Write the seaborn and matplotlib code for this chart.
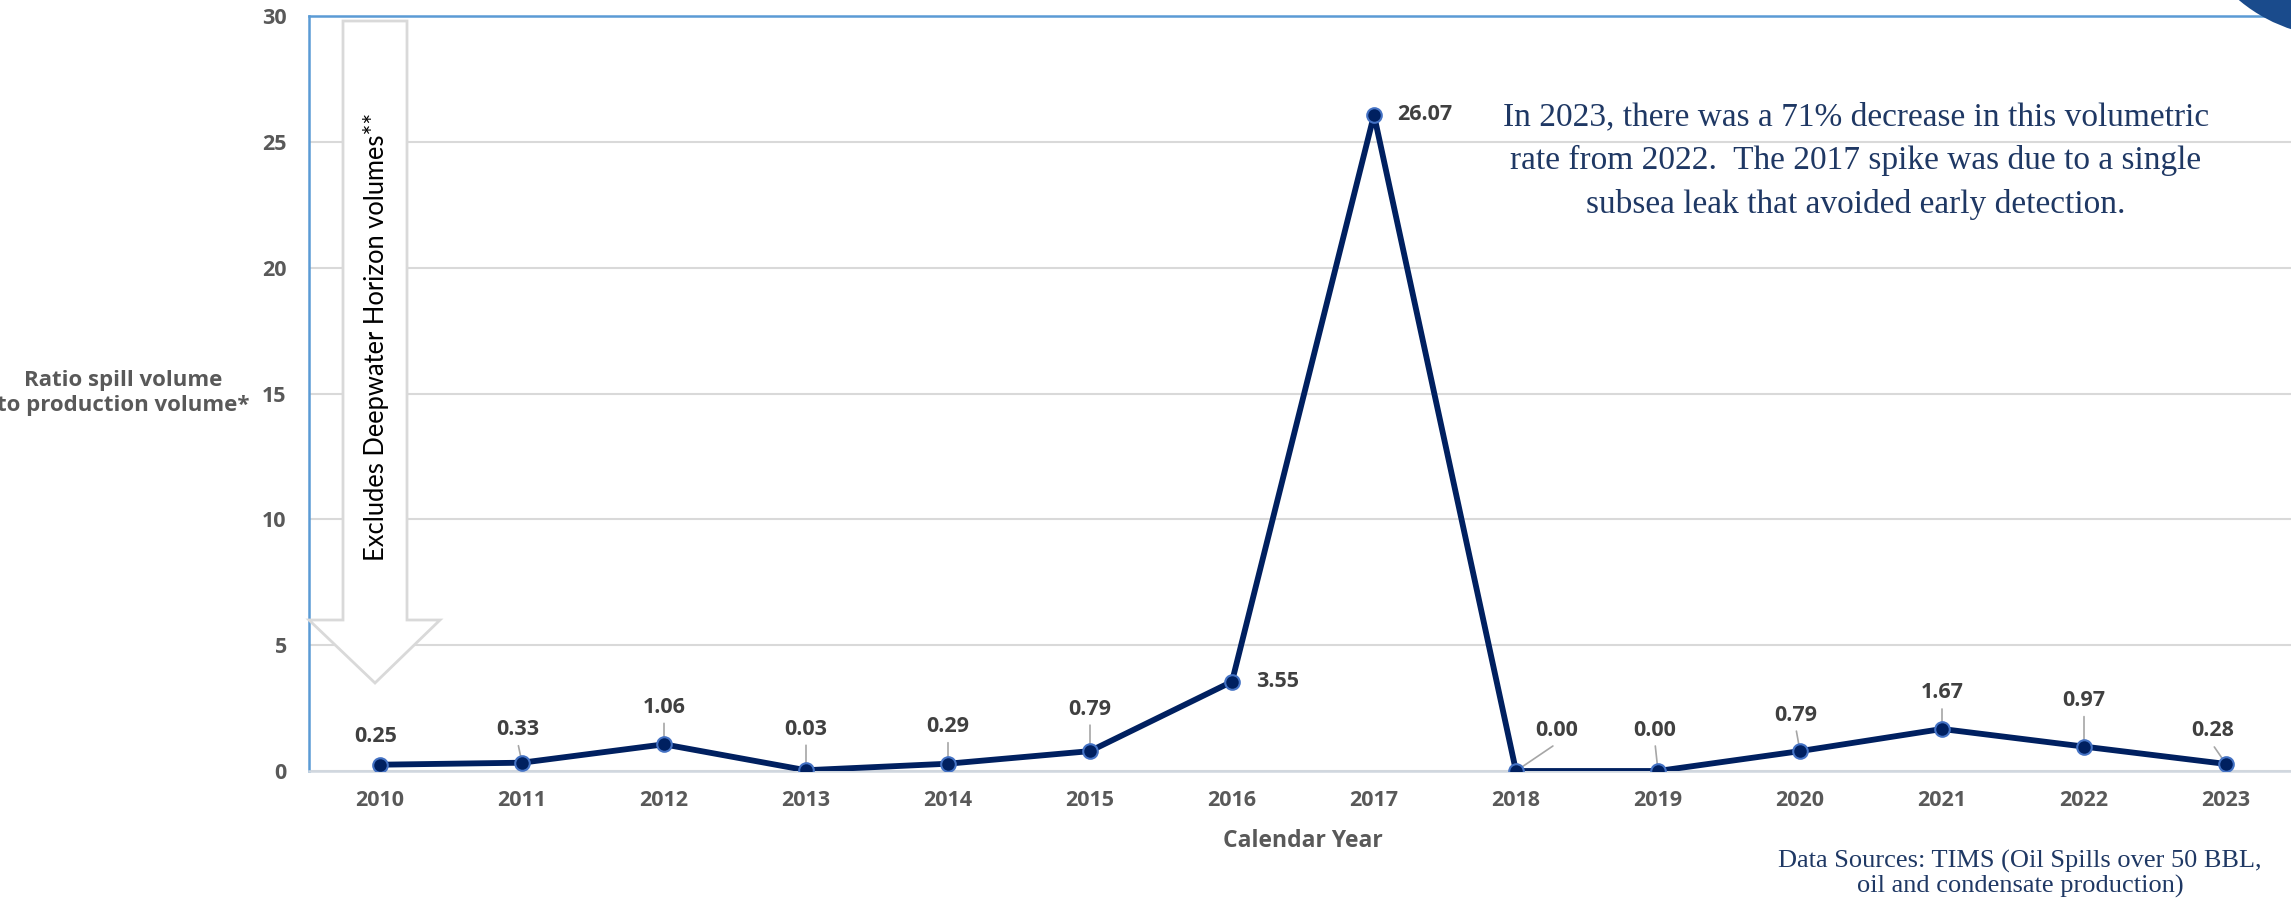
import matplotlib
matplotlib.use("Agg")
import matplotlib.pyplot as plt
from matplotlib.patches import Polygon, Circle
from matplotlib.transforms import IdentityTransform
import seaborn as sns
import pandas as pd

# Spill-to-production ratio by calendar year
years = [2010, 2011, 2012, 2013, 2014, 2015, 2016, 2017, 2018, 2019, 2020, 2021, 2022, 2023]
ratios = [0.25, 0.33, 1.06, 0.03, 0.29, 0.79, 3.55, 26.07, 0.00, 0.00, 0.79, 1.67, 0.97, 0.28]
y_ticks = [0, 5, 10, 15, 20, 25, 30]

# label offsets (pixels) relative to each point, and whether a leader line is drawn
label_dx = [-4, -4, 0, 0, 0, 0, 24, 23, 41, -3, -4, 0, 0, -13]
label_dy = [28, 33, 37, 41, 37, 42, 0, 0, 41, 41, 36, 36, 46, 33]
label_ha = ["center"] * 6 + ["left", "left"] + ["center"] * 6
leader = [False, True, True, True, True, True, False, False, True, True, True, True, True, True]

df = pd.DataFrame({"year": years, "ratio": ratios})

W, H, DPI = 2291, 908, 100
sns.set_theme(style="white")
plt.rcParams["font.family"] = ["Open Sans", "DejaVu Sans"]

fig = plt.figure(figsize=(W / DPI, H / DPI), dpi=DPI)
ax_left, ax_bottom, ax_top = 309.0, 771.0, 16.0
ax = fig.add_axes([ax_left / W, (H - ax_bottom) / H, 1 - ax_left / W, (ax_bottom - ax_top) / H])

step = 142.0
ax.set_xlim(2009.5, 2009.5 + (W - ax_left) / step)
ax.set_ylim(0, 30)

navy = "#002060"
sns.lineplot(data=df, x="year", y="ratio", ax=ax, color=navy, linewidth=4.2,
             marker="o", markersize=10.5, markerfacecolor=navy,
             markeredgecolor="#4472c4", markeredgewidth=1.5, zorder=5)

ax.set_yticks(y_ticks)
ax.set_xticks(years)
ax.set_xticklabels([str(y) for y in years])
ax.tick_params(axis="both", length=0, labelsize=15.5, labelcolor="#595959")
ax.tick_params(axis="y", pad=16)
ax.tick_params(axis="x", pad=14)
for lbl in ax.get_xticklabels() + ax.get_yticklabels():
    lbl.set_fontweight("bold")

ax.grid(axis="y", color="#d9d9d9", linewidth=1.5)
ax.grid(axis="x", visible=False)
ax.set_axisbelow(True)
ax.set_xlabel("")
ax.set_ylabel("")

for side in ["left", "top"]:
    ax.spines[side].set_color("#5b9bd5")
    ax.spines[side].set_linewidth(1.8)
ax.spines["bottom"].set_color("#d0d7df")
ax.spines["bottom"].set_linewidth(1.8)
ax.spines["right"].set_visible(False)

# value labels
for yr, v, dx, dy, ha, ld in zip(years, ratios, label_dx, label_dy, label_ha, leader):
    ax.annotate(f"{v:.2f}", xy=(yr, v), xytext=(dx, dy), textcoords="offset pixels",
                ha=ha, va="center", fontsize=15.5, fontweight="bold", color="#404040",
                zorder=6)
    if ld:
        ax.annotate("", xy=(yr, v), xytext=(dx * 0.9, dy - 16), textcoords="offset pixels",
                    arrowprops=dict(arrowstyle="-", color="#a6a6a6", lw=1.2,
                                    shrinkA=0, shrinkB=3), zorder=4)

# axis titles
fig.text(123 / W, 1 - 393 / H, "Ratio spill volume\nto production volume*",
         ha="center", va="center", fontsize=16, fontweight="bold", color="#595959",
         linespacing=1.3)
fig.text(1303 / W, 1 - 841 / H, "Calendar Year", ha="center", va="center",
         fontsize=16.5, fontweight="bold", color="#595959")

# block arrow marking the exclusion note
def fx(px):
    return px / W

def fy(py):
    return 1 - py / H

arrow_pts = [(343, 21), (407, 21), (407, 620), (440, 620), (375, 683),
             (309, 620), (343, 620)]
arrow = Polygon([(fx(x), fy(y)) for x, y in arrow_pts], closed=True,
                facecolor="white", edgecolor="#d9d9d9", linewidth=2,
                transform=fig.transFigure, zorder=3)
fig.add_artist(arrow)
fig.text(fx(376), fy(337), "Excludes Deepwater Horizon volumes**", rotation=90,
         ha="center", va="center", fontsize=18.4, color="black", zorder=4,
         family=["Lato", "DejaVu Sans"])

# commentary
serif = ["Liberation Serif", "DejaVu Serif"]
fig.text(fx(1856), fy(161),
         "In 2023, there was a 71% decrease in this volumetric\n"
         "rate from 2022.  The 2017 spike was due to a single\n"
         "subsea leak that avoided early detection.",
         ha="center", va="center", fontsize=24, color="#1f3864", family=serif,
         linespacing=1.55)
fig.text(fx(2020), fy(874),
         "Data Sources: TIMS (Oil Spills over 50 BBL,\noil and condensate production)",
         ha="center", va="center", fontsize=19, color="#1f3864", family=serif,
         linespacing=1.15)

# corner emblem
fig.add_artist(Circle((2340, H + 120), 157, transform=IdentityTransform(),
                      facecolor="#1a4b8c", edgecolor="none", zorder=10))

fig.savefig("out.png", dpi=DPI)
